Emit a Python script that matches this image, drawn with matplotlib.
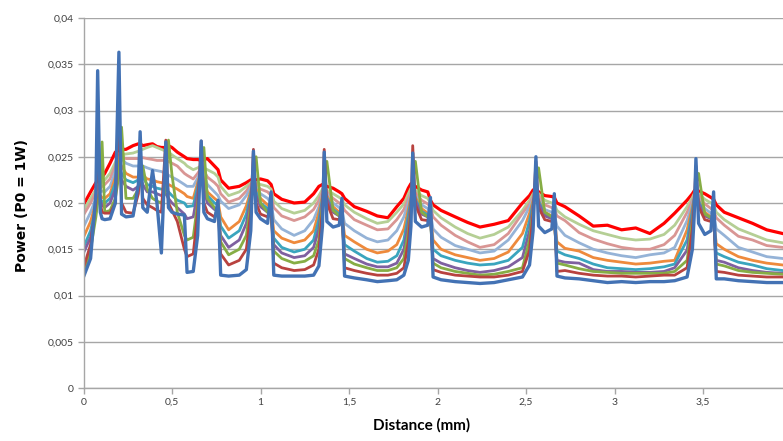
#!/usr/bin/env python3
"""Power vs distance, ten traces (Excel style line chart)."""
import matplotlib
matplotlib.use("Agg")
import matplotlib.pyplot as plt
from matplotlib.ticker import FuncFormatter, MultipleLocator

# distance (mm)
dist = [0.00, 0.04, 0.07, 0.08, 0.095, 0.105, 0.12, 0.15, 0.18, 0.20,
        0.215, 0.24, 0.28, 0.31, 0.32, 0.335, 0.36, 0.39, 0.415, 0.44,
        0.465, 0.48, 0.50, 0.53, 0.57, 0.585, 0.62, 0.645, 0.665, 0.68,
        0.70, 0.74, 0.76, 0.775, 0.82, 0.88, 0.92, 0.945, 0.96, 0.975,
        1.00, 1.04, 1.06, 1.075, 1.12, 1.19, 1.25, 1.30, 1.33, 1.35,
        1.36, 1.375, 1.41, 1.445, 1.46, 1.475, 1.53, 1.60, 1.66, 1.72,
        1.77, 1.81, 1.835, 1.85, 1.86, 1.875, 1.91, 1.945, 1.96, 1.975,
        2.02, 2.10, 2.17, 2.24, 2.32, 2.40, 2.48, 2.52, 2.54, 2.556,
        2.571, 2.606, 2.646, 2.66, 2.675, 2.72, 2.80, 2.88, 2.96, 3.04,
        3.12, 3.20, 3.28, 3.34, 3.41, 3.44, 3.45, 3.46, 3.475, 3.51,
        3.545, 3.56, 3.575, 3.62, 3.70, 3.78, 3.86, 3.95]

# power values, in units of 1e-4 W
red = [198, 212, 222, 224, 226, 228, 232, 243, 255, 257,
       258, 258, 262, 264, 264, 262, 263, 264, 261, 260,
       260, 262, 260, 255, 250, 248, 247, 247, 246, 247,
       248, 240, 236, 225, 216, 218, 222, 225, 225, 225,
       226, 224, 220, 210, 204, 200, 201, 210, 218, 220,
       219, 218, 216, 212, 210, 205, 196, 191, 186, 184,
       196, 205, 216, 221, 220, 218, 214, 212, 203, 198,
       192, 185, 179, 174, 177, 181, 200, 208, 214, 216,
       212, 208, 207, 206, 200, 196, 186, 175, 176, 171,
       173, 167, 178, 189, 203, 210, 213, 215, 213, 210,
       206, 204, 198, 190, 184, 178, 171, 167]
light_green = [192, 205, 215, 218, 220, 222, 225, 232, 244, 250,
               252, 253, 254, 256, 257, 258, 260, 262, 260, 258,
               256, 255, 252, 248, 243, 240, 236, 238, 240, 238,
               236, 232, 228, 218, 208, 212, 218, 222, 224, 222,
               220, 218, 215, 202, 194, 189, 192, 200, 208, 215,
               216, 214, 210, 206, 204, 198, 190, 183, 178, 180,
               190, 199, 210, 216, 217, 214, 208, 205, 200, 192,
               184, 174, 167, 162, 166, 174, 192, 203, 210, 214,
               210, 203, 200, 199, 192, 185, 177, 170, 166, 162,
               160, 161, 166, 176, 196, 206, 210, 213, 210, 204,
               200, 198, 190, 182, 172, 166, 160, 157]
pink = [187, 200, 212, 215, 216, 218, 220, 226, 240, 252,
        250, 248, 248, 248, 249, 249, 248, 247, 246, 246,
        246, 245, 243, 240, 232, 230, 226, 232, 238, 235,
        228, 222, 218, 210, 201, 205, 213, 220, 223, 220,
        215, 212, 208, 195, 186, 181, 185, 193, 203, 212,
        214, 212, 205, 200, 198, 192, 182, 176, 171, 172,
        182, 193, 205, 212, 214, 211, 203, 199, 196, 185,
        176, 165, 158, 152, 155, 167, 189, 199, 207, 212,
        208, 198, 195, 193, 186, 181, 168, 161, 156, 152,
        150, 150, 155, 165, 190, 203, 208, 212, 208, 199,
        194, 192, 184, 176, 164, 160, 154, 152]
light_blue = [174, 190, 205, 210, 212, 213, 212, 218, 234, 250,
              248, 243, 240, 240, 242, 240, 238, 236, 235, 234,
              232, 230, 228, 225, 220, 218, 218, 227, 236, 230,
              220, 212, 208, 202, 194, 198, 208, 217, 222, 218,
              210, 205, 200, 182, 172, 165, 170, 182, 196, 210,
              213, 210, 200, 195, 192, 178, 170, 162, 158, 160,
              170, 185, 200, 210, 213, 208, 198, 194, 190, 172,
              163, 154, 150, 146, 148, 160, 181, 196, 205, 210,
              205, 193, 190, 188, 175, 165, 157, 150, 146, 143,
              141, 144, 146, 152, 181, 200, 207, 212, 205, 194,
              189, 187, 172, 165, 152, 147, 142, 140]
orange = [163, 180, 200, 208, 208, 206, 205, 210, 228, 245,
          240, 232, 228, 228, 232, 230, 226, 225, 223, 222,
          222, 220, 218, 215, 210, 207, 205, 222, 235, 225,
          212, 205, 202, 185, 171, 180, 197, 213, 222, 215,
          205, 198, 194, 170, 162, 157, 160, 170, 190, 208,
          213, 208, 196, 190, 188, 165, 158, 150, 146, 148,
          155, 172, 193, 207, 213, 206, 194, 189, 186, 160,
          150, 144, 141, 138, 140, 147, 167, 189, 203, 211,
          203, 190, 186, 184, 158, 151, 148, 141, 138, 136,
          134, 135, 137, 138, 171, 196, 206, 213, 203, 190,
          185, 183, 156, 150, 142, 138, 135, 133]
teal = [152, 170, 195, 206, 204, 202, 200, 205, 222, 240,
        232, 225, 222, 225, 235, 228, 220, 218, 216, 215,
        215, 212, 208, 203, 200, 196, 197, 218, 236, 222,
        208, 200, 198, 175, 162, 170, 188, 210, 223, 212,
        200, 194, 190, 162, 152, 147, 150, 160, 182, 205,
        214, 206, 193, 188, 186, 155, 148, 140, 136, 137,
        143, 160, 187, 204, 214, 204, 191, 187, 185, 150,
        143, 138, 135, 133, 134, 138, 152, 181, 200, 212,
        202, 188, 185, 183, 148, 144, 140, 134, 130, 129,
        128, 129, 131, 134, 160, 192, 205, 214, 202, 188,
        184, 182, 146, 142, 136, 133, 129, 127]
purple = [146, 163, 192, 205, 202, 198, 195, 200, 215, 235,
          225, 218, 214, 218, 230, 220, 212, 212, 210, 208,
          210, 205, 200, 195, 188, 183, 185, 212, 238, 215,
          200, 193, 192, 165, 152, 160, 178, 205, 225, 208,
          196, 190, 188, 155, 146, 141, 143, 152, 172, 202,
          216, 204, 190, 186, 185, 145, 140, 134, 131, 131,
          135, 150, 178, 200, 216, 202, 188, 185, 184, 140,
          135, 130, 127, 125, 127, 131, 141, 170, 197, 215,
          200, 186, 183, 182, 138, 136, 135, 128, 126, 126,
          125, 125, 126, 130, 149, 186, 203, 216, 200, 186,
          183, 181, 138, 136, 130, 127, 125, 124]
green = [124, 150, 185, 200, 215, 266, 190, 192, 205, 230,
         282, 205, 205, 215, 225, 240, 215, 205, 202, 200,
         215, 268, 230, 190, 165, 160, 163, 200, 240, 260,
         205, 195, 190, 158, 144, 150, 165, 198, 228, 250,
         200, 190, 188, 148, 140, 135, 137, 143, 160, 198,
         220, 245, 192, 186, 185, 140, 134, 130, 127, 127,
         130, 140, 168, 196, 220, 245, 190, 185, 184, 135,
         130, 126, 124, 122, 123, 126, 130, 160, 192, 218,
         238, 190, 185, 183, 135, 133, 129, 126, 125, 124,
         124, 124, 124, 126, 138, 180, 200, 220, 232, 188,
         184, 182, 134, 132, 127, 125, 124, 123]
dark_red = [130, 155, 200, 268, 200, 190, 189, 189, 200, 305,
            200, 190, 189, 210, 240, 205, 198, 195, 192, 190,
            268, 200, 192, 180, 150, 142, 145, 190, 267, 200,
            190, 185, 195, 145, 133, 138, 150, 190, 258, 200,
            188, 185, 195, 135, 130, 127, 128, 133, 150, 192,
            258, 200, 183, 182, 195, 130, 127, 124, 122, 122,
            124, 130, 158, 192, 262, 198, 182, 181, 192, 128,
            125, 122, 121, 120, 120, 122, 126, 149, 188, 245,
            195, 182, 180, 190, 126, 127, 124, 122, 121, 121,
            120, 121, 122, 122, 130, 172, 198, 240, 196, 182,
            180, 188, 126, 125, 122, 121, 120, 120]
blue = [120, 140, 210, 343, 190, 183, 182, 183, 200, 363,
        188, 185, 186, 220, 277, 195, 190, 235, 200, 146,
        266, 195, 190, 188, 187, 125, 126, 165, 267, 190,
        183, 180, 203, 122, 121, 122, 128, 170, 256, 190,
        183, 178, 212, 122, 121, 121, 121, 122, 132, 175,
        255, 180, 174, 176, 205, 121, 119, 117, 115, 116,
        117, 122, 138, 175, 254, 180, 174, 176, 206, 120,
        117, 115, 114, 113, 114, 117, 120, 133, 170, 250,
        175, 168, 172, 210, 121, 119, 118, 116, 114, 115,
        114, 115, 115, 116, 120, 150, 185, 248, 178, 166,
        170, 212, 118, 118, 116, 115, 114, 114]

series = [(red, "#FF0000", 2.3), (light_green, "#B5CF95", 2.0),
          (pink, "#D99694", 2.0), (light_blue, "#95B3D7", 2.0),
          (orange, "#EE8A3C", 2.0), (teal, "#3AA5BE", 2.0),
          (purple, "#7F60A0", 2.0), (green, "#86AD45", 2.0),
          (dark_red, "#B8423F", 2.0), (blue, "#4372B4", 2.4)]

fig = plt.figure(figsize=(7.83, 4.41), dpi=100)
ax = fig.add_axes([83.5 / 783, 53 / 441, 1 - 83.5 / 783, 370 / 441])

for vals, col, lw in series:
    ax.plot(dist, [v * 1e-4 for v in vals], color=col, lw=lw,
            solid_joinstyle="round")

ax.set_xlim(0, (783 - 83.5) / 177)
ax.set_ylim(0, 0.04)
ax.xaxis.set_major_locator(MultipleLocator(0.5))
ax.yaxis.set_major_locator(MultipleLocator(0.005))
fmt = FuncFormatter(lambda v, p: f"{v:g}".replace(".", ","))
ax.xaxis.set_major_formatter(fmt)
ax.yaxis.set_major_formatter(fmt)

ax.grid(axis="y", color="#A6A6A6", lw=1.0)
ax.set_axisbelow(True)
for s in ["top", "right"]:
    ax.spines[s].set_visible(False)
for s in ["left", "bottom"]:
    ax.spines[s].set_color("#A6A6A6")
    ax.spines[s].set_linewidth(1.0)
ax.tick_params(axis="both", colors="#A6A6A6", labelcolor="#404040",
               length=4, width=1.0, labelsize=7.5, pad=3)
for lab in ax.get_xticklabels() + ax.get_yticklabels():
    lab.set_family(["Lato", "DejaVu Sans"])

fig.text(0.538, 0.02, "Distance (mm)", ha="center", va="bottom",
         fontsize=11, fontweight="bold", family=["Lato", "DejaVu Sans"])
fig.text(0.028, 0.535, "Power (P0 = 1W)", ha="center", va="center",
         rotation=90, fontsize=10, fontweight="bold", family="DejaVu Sans")

fig.savefig("out.png", dpi=100)
